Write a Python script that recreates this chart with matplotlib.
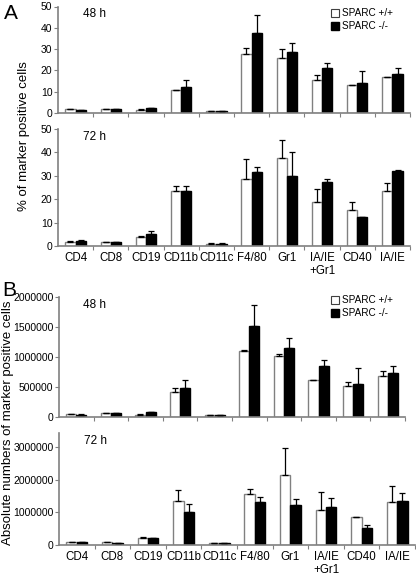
import matplotlib
matplotlib.use("Agg")
import matplotlib.pyplot as plt
import numpy as np
from matplotlib.lines import Line2D

plt.rcParams['font.family'] = ['Liberation Sans', 'DejaVu Sans']

categories = ["CD4", "CD8", "CD19", "CD11b", "CD11c", "F4/80", "Gr1", "IA/IE\n+Gr1", "CD40", "IA/IE"]

A48_wt = [1.7, 1.7, 1.4, 10.6, 0.9, 27.5, 25.7, 15.6, 13.1, 16.9]
A48_wt_err = [0.2, 0.2, 0.3, 0.3, 0.1, 3.2, 4.2, 2.1, 0.2, 0.2]
A48_ko = [1.4, 1.9, 2.3, 12.2, 0.9, 37.7, 28.5, 20.9, 13.9, 18.1]
A48_ko_err = [0.1, 0.1, 0.2, 3.5, 0.1, 8.5, 4.2, 2.5, 5.9, 3.0]

A72_wt = [1.9, 1.6, 3.7, 23.7, 1.0, 28.5, 37.6, 18.6, 15.4, 23.6]
A72_wt_err = [0.1, 0.1, 0.4, 2.0, 0.1, 8.5, 7.6, 5.8, 3.3, 3.5]
A72_ko = [2.3, 1.7, 5.1, 23.7, 1.0, 31.5, 30.1, 27.2, 12.3, 32.1]
A72_ko_err = [0.1, 0.1, 1.5, 2.0, 0.1, 2.2, 10.2, 1.6, 0.0, 0.3]

B48_wt = [51e3, 62e3, 40e3, 415e3, 28e3, 1097e3, 1011e3, 619e3, 523e3, 676e3]
B48_wt_err = [5e3, 5e3, 5e3, 68e3, 3e3, 17e3, 46e3, 0, 62e3, 97e3]
B48_ko = [40e3, 62e3, 85e3, 477e3, 28e3, 1523e3, 1142e3, 852e3, 557e3, 727e3]
B48_ko_err = [3e3, 4e3, 5e3, 148e3, 3e3, 346e3, 182e3, 91e3, 256e3, 131e3]

B72_wt = [92e3, 82e3, 204e3, 1337e3, 61e3, 1551e3, 2143e3, 1071e3, 847e3, 1316e3]
B72_wt_err = [15e3, 10e3, 51e3, 347e3, 10e3, 153e3, 837e3, 541e3, 10e3, 490e3]
B72_ko = [82e3, 71e3, 214e3, 1000e3, 51e3, 1316e3, 1224e3, 1153e3, 510e3, 1337e3]
B72_ko_err = [5e3, 5e3, 10e3, 265e3, 5e3, 164e3, 174e3, 276e3, 92e3, 245e3]

legend_labels = ["SPARC +/+", "SPARC -/-"]

W, H = 416, 577
fig = plt.figure(figsize=(W / 100, H / 100), dpi=100)

def axes_px(left, right, top, bottom):
    return fig.add_axes([left / W, 1 - bottom / H, (right - left) / W, (bottom - top) / H])

def draw(ax, wt, wt_err, ko, ko_err, ylim, yticks, label, show_x, legend_top=None):
    x = np.arange(len(categories))
    bw = 0.29
    ax.bar(x - bw / 2, wt, bw, color='white', edgecolor='#808080', linewidth=1.0, zorder=2)
    ax.bar(x + bw / 2, ko, bw, color='black', edgecolor='black', linewidth=1.0, zorder=2)
    ax.errorbar(x - bw / 2, wt, yerr=[np.zeros(len(wt)), wt_err], fmt='none',
                ecolor='black', elinewidth=0.9, capsize=2.2, capthick=0.9, zorder=3)
    ax.errorbar(x + bw / 2, ko, yerr=[np.zeros(len(ko)), ko_err], fmt='none',
                ecolor='black', elinewidth=0.9, capsize=2.2, capthick=0.9, zorder=3)
    ax.set_xlim(-0.5, len(categories) - 0.5)
    ax.set_ylim(*ylim)
    ax.set_yticks(yticks)
    ax.set_yticklabels([str(int(t)) for t in yticks], fontsize=7.5)
    ax.set_xticks(np.arange(len(categories)) + 0.5)
    ax.tick_params(axis='x', length=3, width=0.8, color='#808080', labelbottom=False)
    ax.tick_params(axis='y', length=3, width=0.8, color='#808080', pad=1)
    if show_x:
        ax.set_xticks(np.arange(len(categories)), minor=True)
        ax.set_xticklabels(categories, minor=True, fontsize=8.3, va='top', linespacing=1.15)
        ax.tick_params(axis='x', which='minor', length=0, pad=4)
    for s in ['top', 'right']:
        ax.spines[s].set_visible(False)
    for s in ['left', 'bottom']:
        ax.spines[s].set_color('#808080')
        ax.spines[s].set_linewidth(1.2)
    ax.text(0.07, 0.985, label, transform=ax.transAxes, fontsize=8.5, va='top', ha='left')
    if legend_top is not None:
        handles = [Line2D([], [], marker='s', linestyle='none', markersize=5.5,
                          markerfacecolor='white', markeredgecolor='#404040', markeredgewidth=0.8),
                   Line2D([], [], marker='s', linestyle='none', markersize=5.5,
                          markerfacecolor='black', markeredgecolor='black')]
        ax.legend(handles, legend_labels, loc='upper left',
                  bbox_to_anchor=(331 / W, 1 - legend_top / H), bbox_transform=fig.transFigure,
                  frameon=False, fontsize=7.2, handletextpad=0.25, handlelength=0.8,
                  labelspacing=0.3, borderaxespad=0, borderpad=0)

axA1 = axes_px(58, 410, 6.5, 113)
draw(axA1, A48_wt, A48_wt_err, A48_ko, A48_ko_err, (0, 50), [0, 10, 20, 30, 40, 50], "48 h", False, legend_top=8)
axA2 = axes_px(58, 410, 129, 246)
draw(axA2, A72_wt, A72_wt_err, A72_ko, A72_ko_err, (0, 50), [0, 10, 20, 30, 40, 50], "72 h", True)
axB1 = axes_px(59, 405, 297, 417)
draw(axB1, B48_wt, B48_wt_err, B48_ko, B48_ko_err, (0, 2000000), [0, 500000, 1000000, 1500000, 2000000], "48 h", False, legend_top=295)
axB2 = axes_px(59, 415, 433, 545)
draw(axB2, B72_wt, B72_wt_err, B72_ko, B72_ko_err, (0, 3430000), [0, 1000000, 2000000, 3000000], "72 h", True)

fig.text(4 / W, 1 - 4 / H, "A", fontsize=15, va='top', ha='left')
fig.text(2 / W, 1 - 281 / H, "B", fontsize=15, va='top', ha='left')
fig.text(24 / W, 1 - 136 / H, "% of marker positive cells", rotation=90, fontsize=9.5,
         va='center', ha='center')
fig.text(8 / W, 1 - 423 / H, "Absolute numbers of marker positive cells", rotation=90,
         fontsize=9.5, va='center', ha='center')

fig.savefig("out.png", dpi=100)
